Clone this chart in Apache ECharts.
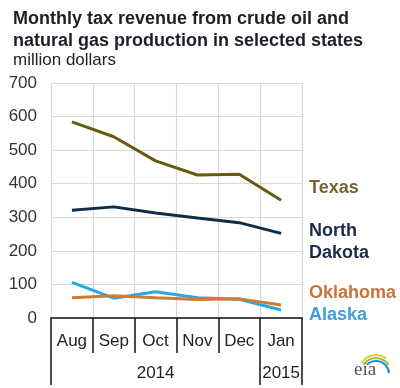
<!DOCTYPE html>
<html><head><meta charset="utf-8">
<script src="https://cdn.jsdelivr.net/npm/echarts@6/dist/echarts.min.js"></script>
<style>html,body{margin:0;padding:0;background:#fff}#c{width:400px;height:388px}</style>
</head><body><div id="c"></div>
<script>
var months = ['Aug','Sep','Oct','Nov','Dec','Jan'];
var yearLabels = ['', '', '2014', '', '', '2015'];
var yTicks = [0,100,200,300,400,500,600,700];
var texas = [584, 540, 468, 426, 428, 351];
var northDakota = [321, 331, 313, 298, 284, 252];
var oklahoma = [60, 66, 60, 55, 57, 39];
var alaska = [106, 59, 78, 60, 56, 24];

var F = '"Liberation Sans", Arial, sans-serif';
var chart = echarts.init(document.getElementById('c'), null, {renderer:'canvas'});
function lineSeries(name, data, color){
  return {name:name, type:'line', data:data, symbol:'none', xAxisIndex:0,
    lineStyle:{color:color, width:3}, itemStyle:{color:color}, z:3};
}
chart.setOption({
  animation:false,
  title:[
    {text:'Monthly tax revenue from crude oil and\nnatural gas production in selected states', left:8, top:3,
     textStyle:{fontFamily:F, fontSize:18, fontWeight:'bold', color:'#1e1e28', lineHeight:22}},
    {text:'million dollars', left:8, top:45,
     textStyle:{fontFamily:F, fontSize:17, fontWeight:'normal', color:'#222', lineHeight:20}}
  ],
  grid:{left:51, right:98, top:83, bottom:70},
  xAxis:[
    {type:'category', data:months, boundaryGap:true, position:'bottom',
     axisLine:{show:true, lineStyle:{color:'#111', width:1.5}},
     axisTick:{show:true, interval:0, length:35, lineStyle:{color:'#111', width:1.5}},
     axisLabel:{interval:0, margin:15, fontFamily:F, fontSize:17, color:'#222'},
     splitLine:{show:true, interval:0, lineStyle:{color:'#d9d9d9', width:1.2}}},
    {type:'category', data:months, boundaryGap:true, position:'bottom',
     axisLine:{show:false},
     axisTick:{show:true, length:67, interval:function(i){return i===0||i===5;}, lineStyle:{color:'#111', width:1.5}},
     axisLabel:{interval:0, margin:47, fontFamily:F, fontSize:17, color:'#222',
       formatter:function(v,i){return yearLabels[i];}},
     splitLine:{show:false}}
  ],
  yAxis:{type:'value', min:yTicks[0], max:yTicks[yTicks.length-1], interval:100,
    axisLine:{show:false}, axisTick:{show:false},
    axisLabel:{margin:14, fontFamily:F, fontSize:17, color:'#333'},
    splitLine:{show:true, lineStyle:{color:'#d9d9d9', width:1.2}}},
  series:[
    lineSeries('Texas', texas, '#695a10'),
    lineSeries('North Dakota', northDakota, '#0f2d47'),
    lineSeries('Alaska', alaska, '#27a9e1'),
    lineSeries('Oklahoma', oklahoma, '#d07b35')
  ],
  graphic:[
    {type:'text', left:309, top:179, style:{text:'Texas', fill:'#7a6437', font:'bold 18px '+F}},
    {type:'text', left:309, top:220, style:{text:'North\nDakota', fill:'#1d2a4a', font:'bold 18px '+F, lineHeight:22}},
    {type:'text', left:309, top:284, style:{text:'Oklahoma', fill:'#c8743a', font:'bold 18px '+F}},
    {type:'text', left:309, top:306, style:{text:'Alaska', fill:'#3d9fd9', font:'bold 18px '+F}},
    {type:'text', left:354, top:361, style:{text:'eia', fill:'#555', font:'19px "Liberation Serif", serif'}},
    {type:'arc', shape:{cx:376, cy:372, r:17, startAngle:-Math.PI*0.82, endAngle:-Math.PI*0.3}, style:{stroke:'#e9c84a', lineWidth:2, fill:null}},
    {type:'arc', shape:{cx:376, cy:373, r:15, startAngle:-Math.PI*0.82, endAngle:-Math.PI*0.18}, style:{stroke:'#8dc63f', lineWidth:2, fill:null}},
    {type:'arc', shape:{cx:376, cy:374, r:13, startAngle:-Math.PI*0.75, endAngle:-Math.PI*0.02}, style:{stroke:'#2a8fd0', lineWidth:2.2, fill:null}}
  ]
});
</script></body></html>
